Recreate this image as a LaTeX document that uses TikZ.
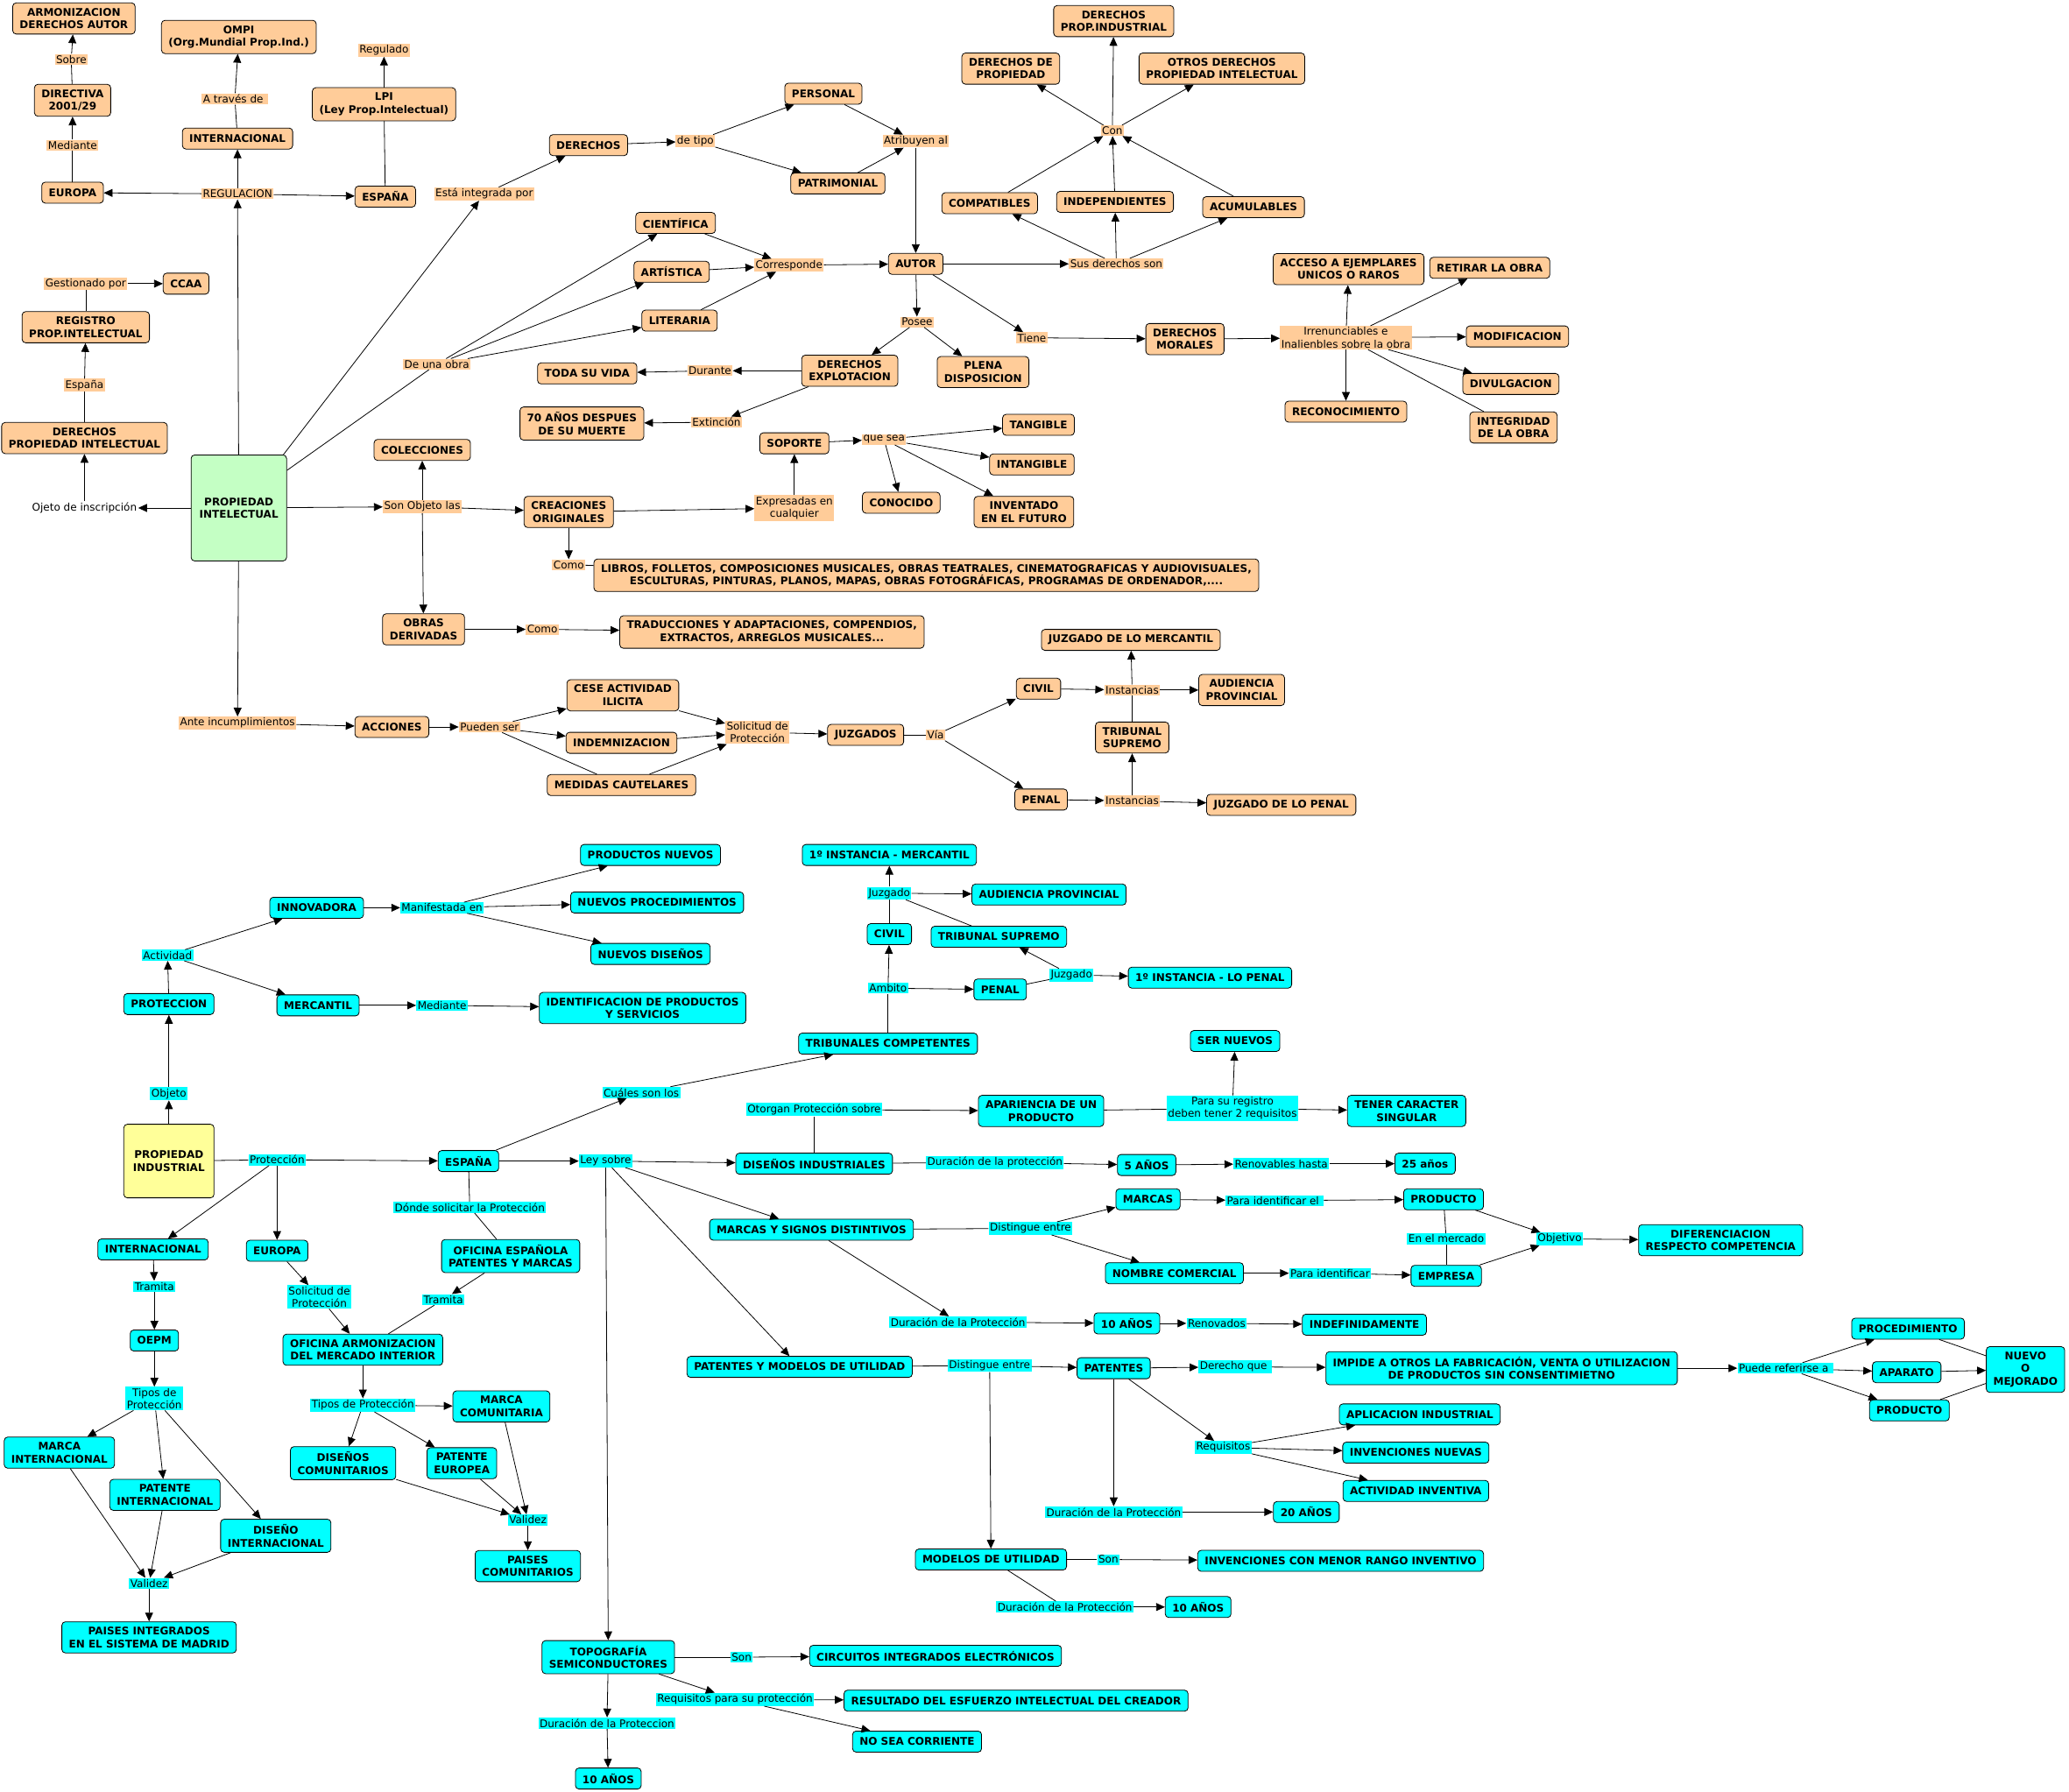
\documentclass[tikz,border=0pt]{standalone}
\usepackage{fontspec}
\setmainfont{DejaVu Sans}
\usetikzlibrary{arrows.meta, positioning}
\definecolor{peach}{RGB}{255,204,153}
\definecolor{aqua}{RGB}{0,255,255}
\definecolor{mint}{RGB}{196,255,196}
\definecolor{paleyellow}{RGB}{255,255,153}

\begin{document}
\begin{tikzpicture}[
  x=1.5064pt, y=-1.5064pt,
  cbox/.style={rectangle, rounded corners=4pt, draw=black, line width=0.8pt, fill=#1,
               minimum height=24pt, inner xsep=8pt, inner ysep=6pt,
               align=center, font=\fontsize{12}{14.5}\selectfont\bfseries},
  lbl/.style={rectangle, fill=#1, inner sep=1.5pt, align=center,
              font=\fontsize{12}{14.5}\selectfont},
  arr/.style={-{Triangle[length=10pt,width=9pt]}, line width=0.8pt},
  ln/.style={line width=0.8pt}
]
\useasboundingbox (0,0) rectangle (1568,1358);

\node[cbox=peach] (armon) at (56,14) {ARMONIZACION\\DERECHOS AUTOR};
\node[lbl=peach] (sobre) at (54,45) {Sobre};
\node[cbox=peach] (direc) at (55,76) {DIRECTIVA\\2001/29};
\node[lbl=peach] (median) at (55,110) {Mediante};
\node[cbox=peach] (euroA) at (55,146) {EUROPA};
\node[cbox=peach] (ompi) at (181,28) {OMPI\\(Org.Mundial Prop.Ind.)};
\node[lbl=peach] (atrav) at (178,75) {A través de~};
\node[cbox=peach] (interA) at (180,105) {INTERNACIONAL};
\node[lbl=peach] (regul) at (180,147) {REGULACION};
\node[cbox=peach] (lpi) at (291,79) {LPI\\(Ley Prop.Intelectual)};
\node[lbl=peach] (regulado) at (291,38) {Regulado};
\node[cbox=peach] (espA) at (292,149) {ESPAÑA};
\node[lbl=peach] (integ) at (367,147) {Está integrada por};
\node[cbox=peach] (derech) at (446,110) {DERECHOS};
\node[lbl=peach] (tipo) at (527,107) {de tipo};
\node[cbox=peach] (person) at (624,71) {PERSONAL};
\node[cbox=peach] (patrim) at (635,139) {PATRIMONIAL};
\node[lbl=peach] (atrib) at (694,107) {Atribuyen al};
\node[cbox=peach] (autor) at (694,200) {AUTOR};
\node[cbox=peach] (cient) at (512,169) {CIENTÍFICA};
\node[cbox=peach] (artist) at (509,206) {ARTÍSTICA};
\node[cbox=peach] (liter) at (515,243) {LITERARIA};
\node[lbl=peach] (corresp) at (598,201) {Corresponde};
\node[lbl=peach] (obra) at (331,276) {De una obra};
\node[cbox=peach] (vida) at (445,283) {TODA SU VIDA};
\node[lbl=peach] (durante) at (538,281) {Durante};
\node[cbox=peach] (explot) at (644,281) {DERECHOS\\EXPLOTACION};
\node[lbl=peach] (posee) at (695,244) {Posee};
\node[cbox=peach] (plena) at (745,282) {PLENA\\DISPOSICION};
\node[lbl=peach] (tiene) at (782,256) {Tiene};
\node[cbox=peach] (moral) at (898,257) {DERECHOS\\MORALES};
\node[lbl=peach] (irren) at (1020,256) {Irrenunciables e\\Inalienbles sobre la obra};
\node[cbox=peach] (acceso) at (1022,204) {ACCESO A EJEMPLARES\\UNICOS O RAROS};
\node[cbox=peach] (retirar) at (1129,203) {RETIRAR LA OBRA};
\node[cbox=peach] (modif) at (1150,255) {MODIFICACION};
\node[cbox=peach] (divulg) at (1145,291) {DIVULGACION};
\node[cbox=peach] (integr) at (1147,324) {INTEGRIDAD\\DE LA OBRA};
\node[cbox=peach] (reconoc) at (1020,312) {RECONOCIMIENTO};
\node[cbox=peach] (setenta) at (441,321) {70 AÑOS DESPUES\\DE SU MUERTE};
\node[lbl=peach] (extin) at (543,320) {Extinción};
\node[lbl=peach] (susder) at (846,200) {Sus derechos son};
\node[cbox=peach] (compat) at (750,154) {COMPATIBLES};
\node[cbox=peach] (indep) at (845,153) {INDEPENDIENTES};
\node[cbox=peach] (acumul) at (950,157) {ACUMULABLES};
\node[lbl=peach] (con) at (843,99) {Con};
\node[cbox=peach] (derprop) at (766,52) {DERECHOS DE\\PROPIEDAD};
\node[cbox=peach] (derind) at (844,16) {DERECHOS\\PROP.INDUSTRIAL};
\node[cbox=peach] (otros) at (926,52) {OTROS DERECHOS\\PROPIEDAD INTELECTUAL};
\node[cbox=peach] (ccaa) at (141,215) {CCAA};
\node[lbl=peach] (gestion) at (65,215) {Gestionado por};
\node[cbox=peach] (registro) at (65,248) {REGISTRO\\PROP.INTELECTUAL};
\node[lbl=peach] (espanaL) at (64,292) {España};
\node[cbox=peach] (dpi) at (64,332) {DERECHOS\\PROPIEDAD INTELECTUAL};
\node[lbl=white] (inscrip) at (64,385) {Ojeto de inscripción};
\node[cbox=mint, minimum width=109pt, minimum height=121pt] (pi) at (181,385) {PROPIEDAD\\INTELECTUAL};
\node[cbox=peach] (colec) at (320,341) {COLECCIONES};
\node[lbl=peach] (objlas) at (320,384) {Son Objeto las};
\node[cbox=peach] (creac) at (431,388) {CREACIONES\\ORIGINALES};
\node[lbl=peach] (expres) at (602,385) {Expresadas en\\cualquier};
\node[cbox=peach] (soporte) at (602,336) {SOPORTE};
\node[lbl=peach] (quesea) at (670,333) {que sea};
\node[cbox=peach] (tang) at (787,322) {TANGIBLE};
\node[cbox=peach] (intang) at (782,352) {INTANGIBLE};
\node[cbox=peach] (conoc) at (683,381) {CONOCIDO};
\node[cbox=peach] (invent) at (776,388) {INVENTADO\\EN EL FUTURO};
\node[lbl=peach] (como1) at (431,428) {Como};
\node[cbox=peach] (libros) at (702,436) {LIBROS, FOLLETOS, COMPOSICIONES MUSICALES, OBRAS TEATRALES, CINEMATOGRAFICAS Y AUDIOVISUALES,\\ESCULTURAS, PINTURAS, PLANOS, MAPAS, OBRAS FOTOGRÁFICAS, PROGRAMAS DE ORDENADOR,....};
\node[cbox=peach] (deriv) at (321,477) {OBRAS\\DERIVADAS};
\node[lbl=peach] (como2) at (411,477) {Como};
\node[cbox=peach] (traduc) at (585,479) {TRADUCCIONES Y ADAPTACIONES, COMPENDIOS,\\EXTRACTOS, ARREGLOS MUSICALES...};
\node[lbl=peach] (ante) at (180,548) {Ante incumplimientos};
\node[cbox=peach] (acciones) at (297,551) {ACCIONES};
\node[lbl=peach] (pueden) at (371,551) {Pueden ser};
\node[cbox=peach] (cese) at (472,527) {CESE ACTIVIDAD\\ILICITA};
\node[cbox=peach] (indem) at (471,563) {INDEMNIZACION};
\node[cbox=peach] (medidas) at (471,595) {MEDIDAS CAUTELARES};
\node[lbl=peach] (solic) at (574,555) {Solicitud de\\Protección};
\node[cbox=peach] (juzg) at (656,557) {JUZGADOS};
\node[lbl=peach] (via) at (709,557) {Vía};
\node[cbox=peach] (civil) at (787,522) {CIVIL};
\node[cbox=peach] (penal) at (789,606) {PENAL};
\node[lbl=peach] (instC) at (858,523) {Instancias};
\node[lbl=peach] (instP) at (858,607) {Instancias};
\node[cbox=peach] (jmerc) at (857,485) {JUZGADO DE LO MERCANTIL};
\node[cbox=peach] (audprov) at (941,523) {AUDIENCIA\\PROVINCIAL};
\node[cbox=peach] (tsup) at (858,559) {TRIBUNAL\\SUPREMO};
\node[cbox=peach] (jpenal) at (971,610) {JUZGADO DE LO PENAL};

\draw[ln] (direc) -- (sobre);
\draw[arr] (sobre) -- (armon);
\draw[ln] (euroA) -- (median);
\draw[arr] (median) -- (direc);
\draw[ln] (interA) -- (atrav);
\draw[arr] (atrav) -- (ompi);
\draw[arr] (regul) -- (euroA);
\draw[arr] (regul) -- (interA);
\draw[arr] (regul) -- (espA);
\draw[arr] (pi) -- (regul);
\draw[ln] (espA) -- (lpi);
\draw[arr] (lpi) -- (regulado);
\draw[arr] ([xshift=-4pt]pi.north east) -- (integ);
\draw[arr] (integ) -- (derech);
\draw[arr] (derech) -- (tipo);
\draw[arr] (tipo) -- (person);
\draw[arr] (tipo) -- (patrim);
\draw[arr] (person) -- (atrib);
\draw[arr] (patrim) -- (atrib);
\draw[arr] (atrib) -- (autor);
\draw[ln] (pi.38) -- (obra);
\draw[arr] (obra) -- (cient);
\draw[arr] (obra) -- (artist);
\draw[arr] (obra) -- (liter);
\draw[arr] (cient) -- (corresp);
\draw[arr] (artist) -- (corresp);
\draw[arr] (liter) -- (corresp);
\draw[arr] (corresp) -- (autor);
\draw[arr] (autor) -- (susder);
\draw[arr] (susder) -- (compat);
\draw[arr] (susder) -- (indep);
\draw[arr] (susder) -- (acumul);
\draw[arr] (compat) -- (con);
\draw[arr] (indep) -- (con);
\draw[arr] (acumul) -- (con);
\draw[arr] (con) -- (derprop);
\draw[arr] (con) -- (derind);
\draw[arr] (con) -- (otros);
\draw[arr] (autor) -- (posee);
\draw[arr] (posee) -- (explot);
\draw[arr] (posee) -- (plena);
\draw[arr] (autor) -- (tiene);
\draw[arr] (tiene) -- (moral);
\draw[arr] (moral) -- (irren);
\draw[arr] (irren) -- (acceso);
\draw[arr] (irren) -- (retirar);
\draw[arr] (irren) -- (modif);
\draw[arr] (irren) -- (divulg);
\draw[ln] (irren) -- (integr);
\draw[arr] (irren) -- (reconoc);
\draw[arr] (explot) -- (durante);
\draw[arr] (durante) -- (vida);
\draw[arr] (explot) -- (extin);
\draw[arr] (extin) -- (setenta);
\draw[arr] (pi) -- (inscrip);
\draw[arr] (inscrip) -- (dpi);
\draw[ln] (dpi) -- (espanaL);
\draw[arr] (espanaL) -- (registro);
\draw[ln] (registro) -- (gestion);
\draw[arr] (gestion) -- (ccaa);
\draw[arr] (pi) -- (objlas);
\draw[arr] (objlas) -- (colec);
\draw[arr] (objlas) -- (creac);
\draw[arr] (objlas) -- (deriv);
\draw[arr] (creac) -- (expres);
\draw[arr] (expres) -- (soporte);
\draw[arr] (soporte) -- (quesea);
\draw[arr] (quesea) -- (tang);
\draw[arr] (quesea) -- (intang);
\draw[arr] (quesea) -- (conoc);
\draw[arr] (quesea) -- (invent);
\draw[arr] (creac) -- (como1);
\draw[ln] (como1) -- (libros);
\draw[arr] (deriv) -- (como2);
\draw[arr] (como2) -- (traduc);
\draw[arr] (pi) -- (ante);
\draw[arr] (ante) -- (acciones);
\draw[arr] (acciones) -- (pueden);
\draw[arr] (pueden) -- (cese);
\draw[arr] (pueden) -- (indem);
\draw[ln] (pueden) -- (medidas);
\draw[arr] (cese) -- (solic);
\draw[arr] (indem) -- (solic);
\draw[arr] (medidas) -- (solic);
\draw[arr] (solic) -- (juzg);
\draw[ln] (juzg) -- (via);
\draw[arr] (via) -- (civil);
\draw[arr] (via) -- (penal);
\draw[arr] (civil) -- (instC);
\draw[arr] (instC) -- (jmerc);
\draw[arr] (instC) -- (audprov);
\draw[ln] (tsup) -- (instC);
\draw[arr] (penal) -- (instP);
\draw[arr] (instP) -- (tsup);
\draw[arr] (instP) -- (jpenal);

\node[cbox=paleyellow, minimum width=103pt, minimum height=84pt] (pind) at (128,880) {PROPIEDAD\\INDUSTRIAL};
\node[lbl=aqua] (objeto) at (128,829) {Objeto};
\node[cbox=aqua] (protec) at (128,761) {PROTECCION};
\node[lbl=aqua] (activ) at (127,724) {Actividad};
\node[cbox=aqua] (innov) at (240,688) {INNOVADORA};
\node[lbl=aqua] (manif) at (335,688) {Manifestada en};
\node[cbox=aqua] (prodn) at (493,648) {PRODUCTOS NUEVOS};
\node[cbox=aqua] (proced) at (498,684) {NUEVOS PROCEDIMIENTOS};
\node[cbox=aqua] (disen) at (493,723) {NUEVOS DISEÑOS};
\node[cbox=aqua] (merc) at (241,762) {MERCANTIL};
\node[lbl=aqua] (median2) at (335,762) {Mediante};
\node[cbox=aqua] (identif) at (487,764) {IDENTIFICACION DE PRODUCTOS\\Y SERVICIOS};
\node[lbl=aqua] (protL) at (210,879) {Protección};
\node[cbox=aqua] (espB) at (355,880) {ESPAÑA};
\node[lbl=aqua] (ley) at (459,880) {Ley sobre};
\node[lbl=aqua] (cuales) at (486,828) {Cuáles son los};
\node[cbox=aqua] (tribcomp) at (673,791) {TRIBUNALES COMPETENTES};
\node[lbl=aqua] (ambito) at (673,749) {Ambito};
\node[cbox=aqua] (civilB) at (674,708) {CIVIL};
\node[cbox=aqua] (penalB) at (758,750) {PENAL};
\node[lbl=aqua] (juzC) at (674,677) {Juzgado};
\node[cbox=aqua] (instM) at (674,648) {1º INSTANCIA - MERCANTIL};
\node[cbox=aqua] (audB) at (795,678) {AUDIENCIA PROVINCIAL};
\node[cbox=aqua] (tsupB) at (757,710) {TRIBUNAL SUPREMO};
\node[lbl=aqua] (juzP) at (812,739) {Juzgado};
\node[cbox=aqua] (instP2) at (917,741) {1º INSTANCIA - LO PENAL};
\node[lbl=aqua] (otorg) at (617,841) {Otorgan Protección sobre};
\node[cbox=aqua] (apar) at (789,842) {APARIENCIA DE UN\\PRODUCTO};
\node[lbl=aqua] (registroB) at (934,840) {Para su registro\\deben tener 2 requisitos};
\node[cbox=aqua] (sernuev) at (936,789) {SER NUEVOS};
\node[cbox=aqua] (tener) at (1066,842) {TENER CARACTER\\SINGULAR};
\node[cbox=aqua] (disind) at (617,882) {DISEÑOS INDUSTRIALES};
\node[lbl=aqua] (durDI) at (754,881) {Duración de la protección};
\node[cbox=aqua] (cinco) at (869,883) {5 AÑOS};
\node[lbl=aqua] (renov) at (971,882) {Renovables hasta};
\node[cbox=aqua] (veinticinco) at (1080,882) {25 años};
\node[cbox=aqua] (marcasSD) at (615,932) {MARCAS Y SIGNOS DISTINTIVOS};
\node[lbl=aqua] (disting1) at (781,931) {Distingue entre};
\node[cbox=aqua] (marcas) at (870,909) {MARCAS};
\node[lbl=aqua] (identEl) at (966,910) {Para identificar el~};
\node[cbox=aqua] (prod1) at (1094,909) {PRODUCTO};
\node[cbox=aqua] (nombre) at (890,965) {NOMBRE COMERCIAL};
\node[lbl=aqua] (ident2) at (1008,965) {Para identificar};
\node[cbox=aqua] (empresa) at (1096,967) {EMPRESA};
\node[lbl=aqua] (mercado) at (1096,939) {En el mercado};
\node[lbl=aqua] (objet) at (1182,939) {Objetivo};
\node[cbox=aqua] (difer) at (1304,940) {DIFERENCIACION\\RESPECTO COMPETENCIA};
\node[lbl=aqua] (durM) at (726,1002) {Duración de la Protección};
\node[cbox=aqua] (diezM) at (854,1003) {10 AÑOS};
\node[lbl=aqua] (renovados) at (922,1003) {Renovados};
\node[cbox=aqua] (indef) at (1034,1004) {INDEFINIDAMENTE};
\node[cbox=aqua] (patmod) at (606,1036) {PATENTES Y MODELOS DE UTILIDAD};
\node[lbl=aqua] (disting2) at (750,1035) {Distingue entre};
\node[cbox=aqua] (patentes) at (844,1037) {PATENTES};
\node[lbl=aqua] (derque) at (936,1036) {Derecho que~};
\node[cbox=aqua] (impide) at (1138,1037) {IMPIDE A OTROS LA FABRICACIÓN, VENTA O UTILIZACION\\DE PRODUCTOS SIN CONSENTIMIETNO};
\node[lbl=aqua] (referir) at (1353,1037) {Puede referirse a~};
\node[cbox=aqua] (procB) at (1446,1007) {PROCEDIMIENTO};
\node[cbox=aqua] (aparato) at (1445,1040) {APARATO};
\node[cbox=aqua] (prod2) at (1447,1069) {PRODUCTO};
\node[cbox=aqua] (nuevo) at (1535,1038) {NUEVO\\O\\MEJORADO};
\node[lbl=aqua] (requis) at (927,1097) {Requisitos};
\node[cbox=aqua] (aplic) at (1076,1072) {APLICACION INDUSTRIAL};
\node[cbox=aqua] (invnuev) at (1073,1101) {INVENCIONES NUEVAS};
\node[cbox=aqua] (actinv) at (1073,1130) {ACTIVIDAD INVENTIVA};
\node[lbl=aqua] (durP) at (844,1146) {Duración de la Protección};
\node[cbox=aqua] (veinte) at (990,1146) {20 AÑOS};
\node[cbox=aqua] (modelos) at (751,1182) {MODELOS DE UTILIDAD};
\node[lbl=aqua] (sonMU) at (840,1182) {Son};
\node[cbox=aqua] (menor) at (1016,1183) {INVENCIONES CON MENOR RANGO INVENTIVO};
\node[lbl=aqua] (durMU) at (807,1218) {Duración de la Protección};
\node[cbox=aqua] (diezMU) at (908,1218) {10 AÑOS};
\node[cbox=aqua] (topog) at (461,1256) {TOPOGRAFÍA\\SEMICONDUCTORES};
\node[lbl=aqua] (sonT) at (562,1256) {Son};
\node[cbox=aqua] (circ) at (709,1255) {CIRCUITOS INTEGRADOS ELECTRÓNICOS};
\node[lbl=aqua] (reqT) at (557,1288) {Requisitos para su protección};
\node[cbox=aqua] (result) at (770,1289) {RESULTADO DEL ESFUERZO INTELECTUAL DEL CREADOR};
\node[cbox=aqua] (nosea) at (695,1320) {NO SEA CORRIENTE};
\node[lbl=aqua] (durT) at (460,1306) {Duración de la Proteccion};
\node[cbox=aqua] (diezT) at (461,1348) {10 AÑOS};
\node[cbox=aqua] (interB) at (116,947) {INTERNACIONAL};
\node[lbl=aqua] (tram1) at (117,975) {Tramita};
\node[cbox=aqua] (oepm) at (117,1016) {OEPM};
\node[lbl=aqua] (tipos1) at (117,1060) {Tipos de\\Protección};
\node[cbox=aqua] (marcaInt) at (45,1101) {MARCA\\INTERNACIONAL};
\node[cbox=aqua] (patInt) at (125,1133) {PATENTE\\INTERNACIONAL};
\node[cbox=aqua] (disInt) at (209,1164) {DISEÑO\\INTERNACIONAL};
\node[lbl=aqua] (valid1) at (113,1200) {Validez};
\node[cbox=aqua] (madrid) at (113,1241) {PAISES INTEGRADOS\\EN EL SISTEMA DE MADRID};
\node[cbox=aqua] (euroB) at (210,948) {EUROPA};
\node[lbl=aqua] (solicB) at (242,983) {Solicitud de\\Protección};
\node[cbox=aqua] (oami) at (275,1023) {OFICINA ARMONIZACION\\DEL MERCADO INTERIOR};
\node[lbl=aqua] (donde) at (356,915) {Dónde solicitar la Protección};
\node[cbox=aqua] (oepmEsp) at (387,952) {OFICINA ESPAÑOLA\\PATENTES Y MARCAS};
\node[lbl=aqua] (tram2) at (336,985) {Tramita};
\node[lbl=aqua] (tipos2) at (275,1065) {Tipos de Protección};
\node[cbox=aqua] (marcaCom) at (380,1066) {MARCA\\COMUNITARIA};
\node[cbox=aqua] (disCom) at (260,1109) {DISEÑOS\\COMUNITARIOS};
\node[cbox=aqua] (patEur) at (350,1109) {PATENTE\\EUROPEA};
\node[lbl=aqua] (valid2) at (400,1152) {Validez};
\node[cbox=aqua] (paisCom) at (400,1187) {PAISES\\COMUNITARIOS};

\draw[arr] (pind) -- (objeto);
\draw[arr] (objeto) -- (protec);
\draw[arr] (protec) -- (activ);
\draw[arr] (activ) -- (innov);
\draw[arr] (activ) -- (merc);
\draw[arr] (innov) -- (manif);
\draw[arr] (manif) -- (prodn);
\draw[arr] (manif) -- (proced);
\draw[arr] (manif) -- (disen);
\draw[arr] (merc) -- (median2);
\draw[arr] (median2) -- (identif);
\draw[ln] (pind) -- (protL);
\draw[arr] (protL) -- (espB);
\draw[arr] (protL) -- (interB);
\draw[arr] (protL) -- (euroB);
\draw[arr] (espB) -- (ley);
\draw[arr] (espB) -- (cuales);
\draw[arr] (cuales) -- (tribcomp);
\draw[ln] (tribcomp) -- (ambito);
\draw[arr] (ambito) -- (civilB);
\draw[arr] (ambito) -- (penalB);
\draw[ln] (civilB) -- (juzC);
\draw[arr] (juzC) -- (instM);
\draw[arr] (juzC) -- (audB);
\draw[ln] (juzC) -- (tsupB);
\draw[ln] (penalB) -- (juzP);
\draw[arr] (juzP) -- (tsupB);
\draw[arr] (juzP) -- (instP2);
\draw[ln] (espB) -- (donde);
\draw[ln] (donde) -- (oepmEsp);
\draw[arr] (oepmEsp) -- (tram2);
\draw[ln] (tram2) -- (oami);
\draw[arr] (interB) -- (tram1);
\draw[arr] (tram1) -- (oepm);
\draw[arr] (oepm) -- (tipos1);
\draw[arr] (tipos1) -- (marcaInt);
\draw[arr] (tipos1) -- (patInt);
\draw[arr] (tipos1) -- (disInt);
\draw[arr] (marcaInt) -- (valid1);
\draw[arr] (patInt) -- (valid1);
\draw[arr] (disInt) -- (valid1);
\draw[arr] (valid1) -- (madrid);
\draw[arr] (euroB) -- (solicB);
\draw[arr] (solicB) -- (oami);
\draw[arr] (oami) -- (tipos2);
\draw[arr] (tipos2) -- (marcaCom);
\draw[arr] (tipos2) -- (disCom);
\draw[arr] (tipos2) -- (patEur);
\draw[arr] (disCom) -- (valid2);
\draw[arr] (patEur) -- (valid2);
\draw[arr] (marcaCom) -- (valid2);
\draw[arr] (valid2) -- (paisCom);
\draw[arr] (ley) -- (disind);
\draw[arr] (ley) -- (marcasSD);
\draw[arr] (ley) -- (patmod);
\draw[arr] (ley) -- (topog);
\draw[ln] (disind) -- (otorg);
\draw[arr] (otorg) -- (apar);
\draw[ln] (apar) -- (registroB);
\draw[arr] (registroB) -- (sernuev);
\draw[arr] (registroB) -- (tener);
\draw[ln] (disind) -- (durDI);
\draw[arr] (durDI) -- (cinco);
\draw[arr] (cinco) -- (renov);
\draw[arr] (renov) -- (veinticinco);
\draw[ln] (marcasSD) -- (disting1);
\draw[arr] (disting1) -- (marcas);
\draw[arr] (disting1) -- (nombre);
\draw[arr] (marcas) -- (identEl);
\draw[arr] (identEl) -- (prod1);
\draw[arr] (nombre) -- (ident2);
\draw[arr] (ident2) -- (empresa);
\draw[ln] (prod1) -- (mercado);
\draw[ln] (mercado) -- (empresa);
\draw[arr] (prod1) -- (objet);
\draw[arr] (empresa) -- (objet);
\draw[arr] (objet) -- (difer);
\draw[arr] (marcasSD) -- (durM);
\draw[arr] (durM) -- (diezM);
\draw[arr] (diezM) -- (renovados);
\draw[arr] (renovados) -- (indef);
\draw[ln] (patmod) -- (disting2);
\draw[arr] (disting2) -- (patentes);
\draw[arr] (disting2) -- (modelos);
\draw[arr] (patentes) -- (derque);
\draw[arr] (derque) -- (impide);
\draw[arr] (impide) -- (referir);
\draw[arr] (referir) -- (procB);
\draw[arr] (referir) -- (aparato);
\draw[arr] (referir) -- (prod2);
\draw[ln] (procB) -- (nuevo);
\draw[arr] (aparato) -- (nuevo);
\draw[ln] (prod2) -- (nuevo);
\draw[arr] (patentes) -- (requis);
\draw[arr] (requis) -- (aplic);
\draw[arr] (requis) -- (invnuev);
\draw[arr] (requis) -- (actinv);
\draw[arr] (patentes) -- (durP);
\draw[arr] (durP) -- (veinte);
\draw[ln] (modelos) -- (sonMU);
\draw[arr] (sonMU) -- (menor);
\draw[ln] (modelos) -- (durMU);
\draw[arr] (durMU) -- (diezMU);
\draw[ln] (topog) -- (sonT);
\draw[arr] (sonT) -- (circ);
\draw[arr] (topog) -- (reqT);
\draw[arr] (reqT) -- (result);
\draw[arr] (reqT) -- (nosea);
\draw[arr] (topog) -- (durT);
\draw[arr] (durT) -- (diezT);
\end{tikzpicture}
\end{document}
